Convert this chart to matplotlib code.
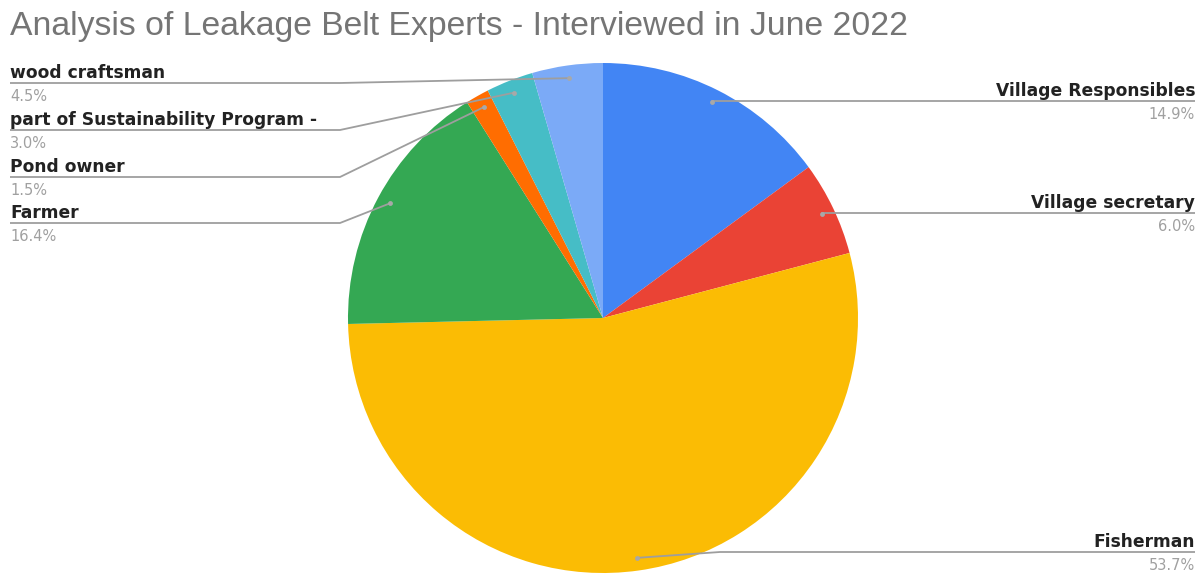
import numpy as np
import matplotlib.pyplot as plt

plt.rcParams['font.family'] = ['Liberation Sans', 'DejaVu Sans']

# Expert groups interviewed (counts of people)
groups = ['Village Responsibles', 'Village secretary', 'Fisherman', 'Farmer',
          'Pond owner', 'part of Sustainability Program -', 'wood craftsman']
counts = [10, 4, 36, 11, 1, 2, 3]
colors = ['#4285F4', '#EA4335', '#FBBC04', '#34A853', '#FF6D01', '#46BDC6', '#7BAAF7']

# label layout: side and y of the leader line (pixels from top)
label_side = ['right', 'right', 'right', 'left', 'left', 'left', 'left']
label_y = [101, 213, 552, 223, 177, 130, 83]

W, H = 1204, 575
fig = plt.figure(figsize=(W / 100, H / 100), dpi=100)
ax = fig.add_axes([0, 0, 1, 1])

cx, cy, R = 603, H - 318, 255
wedges, _ = ax.pie(counts, colors=colors, startangle=90, counterclock=False,
                   center=(cx, cy), radius=R,
                   wedgeprops=dict(linewidth=0))

total = sum(counts)
for w, name, n, side, ly in zip(wedges, groups, counts, label_side, label_y):
    ang = np.deg2rad((w.theta1 + w.theta2) / 2)
    dx, dy = cx + 0.95 * R * np.cos(ang), cy + 0.95 * R * np.sin(ang)
    yl = H - ly
    if side == 'right':
        elbow = max(dx + 60, 720) if abs(dy - yl) > 3 else dx
        xs, tx, ha = [dx, elbow, 1195], 1195, 'right'
    else:
        xs, tx, ha = [dx, 340, 10], 10, 'left'
    ax.plot(xs, [dy, yl, yl], color='#9e9e9e', lw=1.3, solid_capstyle='butt')
    ax.plot(dx, dy, 'o', ms=3.5, color='#a8a8a8', mec='none')
    ax.text(tx, yl + 5, name, ha=ha, va='baseline', fontsize=12.3,
            fontweight='bold', color='#222222', family='DejaVu Sans')
    ax.text(tx, yl - 6, f'{100 * n / total:.1f}%', ha=ha, va='top',
            fontsize=10.5, color='#a0a0a0', family='DejaVu Sans')

ax.text(10, H - 26, 'Analysis of Leakage Belt Experts - Interviewed in June 2022',
        ha='left', va='center', fontsize=24.3, color='#757575')

ax.set_xlim(0, W)
ax.set_ylim(0, H)
ax.axis('off')
fig.savefig('out.png', dpi=100, facecolor='white')
